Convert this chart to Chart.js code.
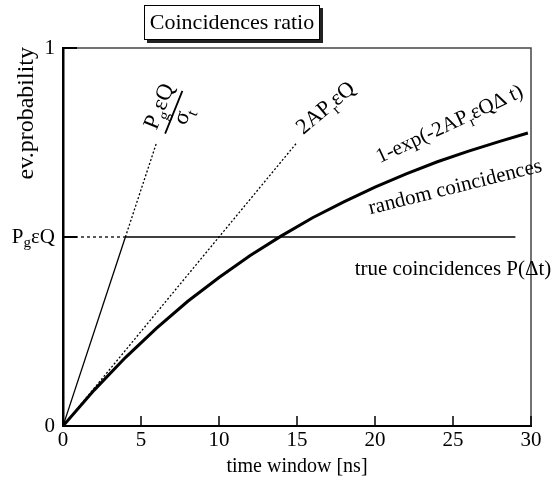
<!DOCTYPE html>
<html>
<head>
<meta charset="utf-8">
<script src="https://cdn.jsdelivr.net/npm/chart.js@4.4.0/dist/chart.umd.min.js"></script>
<style>
  html, body { margin: 0; padding: 0; background: #fff; }
</style>
</head>
<body>
<canvas id="chart" width="554" height="482"></canvas>
<script>
// values
const randomT = [0, 2, 4, 6, 8, 10, 12, 14, 16, 18, 20, 22, 24, 26, 28, 29.8];
const randomP = [0, 0.095, 0.181, 0.259, 0.330, 0.393, 0.451, 0.503, 0.551, 0.593, 0.632, 0.667, 0.699, 0.727, 0.753, 0.775];
const gateT = [0, 4];
const gateP = [0, 0.5];
const gateExtT = [4, 6];
const gateExtP = [0.5, 0.75];
const linearT = [0, 15];
const linearP = [0, 0.75];
const levelDashT = [0, 4];
const levelDashP = [0.5, 0.5];
const trueT = [4, 29];
const trueP = [0.5, 0.5];
const xTicks = [0, 5, 10, 15, 20, 25, 30];
const yTicks = [0, 0.5, 1];
const yTickLabels = ['0', 'P{g}εQ', '1'];

const FONT = '"Liberation Serif", "DejaVu Serif", serif';

function pts(xs, ys) {
  return xs.map((x, i) => ({ x: x, y: ys[i] }));
}

function line(xs, ys, width, dash) {
  return {
    data: pts(xs, ys),
    borderColor: '#000',
    borderWidth: width,
    borderDash: dash || [],
    pointRadius: 0,
    fill: false,
    tension: 0
  };
}

// 'P{g}εQ' -> [{t:'P'},{t:'g',sub:true},{t:'εQ'}]
function parseRich(str) {
  const out = [];
  const re = /\{([^}]*)\}|([^{]+)/g;
  let m;
  while ((m = re.exec(str))) {
    if (m[1] !== undefined) out.push({ t: m[1], sub: true });
    else out.push({ t: m[2], sub: false });
  }
  return out;
}

function richWidth(ctx, str, size) {
  let w = 0;
  parseRich(str).forEach(s => {
    ctx.font = (s.sub ? Math.round(size * 0.7) : size) + 'px ' + FONT;
    w += ctx.measureText(s.t).width;
  });
  return w;
}

function drawRich(ctx, str, x, y, size, align) {
  const w = richWidth(ctx, str, size);
  let cx = x;
  if (align === 'center') cx = x - w / 2;
  if (align === 'right') cx = x - w;
  ctx.textAlign = 'left';
  parseRich(str).forEach(s => {
    const fs = s.sub ? Math.round(size * 0.7) : size;
    ctx.font = fs + 'px ' + FONT;
    ctx.fillText(s.t, cx, s.sub ? y + size * 0.28 : y);
    cx += ctx.measureText(s.t).width;
  });
}

const overlay = {
  id: 'overlay',
  afterDraw(chart) {
    const ctx = chart.ctx;
    const xs = chart.scales.x, ys = chart.scales.y;
    const a = chart.chartArea;
    ctx.save();

    // top and right frame
    ctx.strokeStyle = '#444';
    ctx.lineWidth = 1.5;
    ctx.beginPath();
    ctx.moveTo(a.left, a.top);
    ctx.lineTo(a.right, a.top);
    ctx.lineTo(a.right, a.bottom);
    ctx.stroke();

    // inward ticks
    ctx.strokeStyle = '#000';
    ctx.lineWidth = 1.5;
    xTicks.forEach(v => {
      const px = xs.getPixelForValue(v);
      ctx.beginPath();
      ctx.moveTo(px, a.bottom);
      ctx.lineTo(px, a.bottom - 10);
      ctx.stroke();
    });
    ctx.lineWidth = 2;
    yTicks.forEach(v => {
      const py = ys.getPixelForValue(v);
      ctx.beginPath();
      ctx.moveTo(a.left, py);
      ctx.lineTo(a.left + 14, py);
      ctx.stroke();
    });

    // y tick labels
    ctx.fillStyle = '#000';
    ctx.textBaseline = 'middle';
    yTicks.forEach((v, i) => {
      drawRich(ctx, yTickLabels[i], a.left - 8, ys.getPixelForValue(v), 21, 'right');
    });

    // y title
    ctx.save();
    ctx.translate(33, a.top - 1);
    ctx.rotate(-Math.PI / 2);
    ctx.textBaseline = 'alphabetic';
    drawRich(ctx, 'ev.probability', 0, 0, 24, 'right');
    ctx.restore();

    // boxed title with shadow
    ctx.fillStyle = '#222';
    ctx.fillRect(147, 8, 176, 35);
    ctx.fillStyle = '#fff';
    ctx.fillRect(144, 5, 176, 35);
    ctx.strokeStyle = '#000';
    ctx.lineWidth = 1;
    ctx.strokeRect(144.5, 5.5, 175, 34);
    ctx.fillStyle = '#000';
    ctx.textBaseline = 'middle';
    drawRich(ctx, 'Coincidences ratio', 232, 23, 22, 'center');

    // annotations
    ctx.textBaseline = 'alphabetic';
    const rot = (str, dx, dy, deg, size, align) => {
      ctx.save();
      ctx.translate(xs.getPixelForValue(dx), ys.getPixelForValue(dy));
      ctx.rotate(deg * Math.PI / 180);
      drawRich(ctx, str, 0, 0, size, align);
      ctx.restore();
    };

    // fraction Pg eps Q / sigma_t
    ctx.save();
    ctx.translate(xs.getPixelForValue(7.1), ys.getPixelForValue(0.83));
    ctx.rotate(-68 * Math.PI / 180);
    drawRich(ctx, 'P{g}εQ', 0, -9, 23, 'center');
    ctx.lineWidth = 1.8;
    ctx.beginPath();
    ctx.moveTo(-23, 0);
    ctx.lineTo(23, 0);
    ctx.stroke();
    drawRich(ctx, 'σ{t}', 0, 16, 23, 'center');
    ctx.restore();

    rot('2AP{r}εQ', 15.4, 0.77, -40, 22, 'left');
    rot('1-exp(-2AP{r}εQΔ t)', 20.3, 0.695, -25, 21, 'left');
    rot('random coincidences', 19.7, 0.56, -14, 21, 'left');
    rot('true coincidences P(Δt)', 18.7, 0.40, 0, 21, 'left');

    ctx.restore();
  }
};

new Chart(document.getElementById('chart'), {
  type: 'line',
  data: {
    datasets: [
      line(randomT, randomP, 3),
      line(gateT, gateP, 1.3),
      line(gateExtT, gateExtP, 1.3, [2, 2]),
      line(linearT, linearP, 1.3, [2, 2]),
      line(levelDashT, levelDashP, 1.3, [3, 3]),
      line(trueT, trueP, 1.3)
    ]
  },
  options: {
    responsive: false,
    animation: false,
    layout: { padding: { left: 0, right: 23, top: 48, bottom: 0 } },
    plugins: {
      legend: { display: false },
      tooltip: { enabled: false }
    },
    scales: {
      x: {
        type: 'linear',
        min: 0,
        max: 30,
        afterBuildTicks: s => { s.ticks = xTicks.map(v => ({ value: v })); },
        afterFit: s => { s.height = 56; },
        grid: { display: false, drawTicks: false },
        border: { color: '#000', width: 2 },
        ticks: { color: '#000', font: { family: FONT, size: 21 }, padding: 2, maxRotation: 0 },
        title: {
          display: true,
          text: 'time window [ns]',
          color: '#000',
          font: { family: FONT, size: 20 },
          padding: { top: 0, bottom: 3 }
        }
      },
      y: {
        type: 'linear',
        min: 0,
        max: 1,
        afterBuildTicks: s => { s.ticks = yTicks.map(v => ({ value: v })); },
        afterFit: s => { s.width = 63; },
        grid: { display: false, drawTicks: false },
        border: { color: '#000', width: 2.5 },
        ticks: { display: false }
      }
    }
  },
  plugins: [overlay]
});
</script>
</body>
</html>
